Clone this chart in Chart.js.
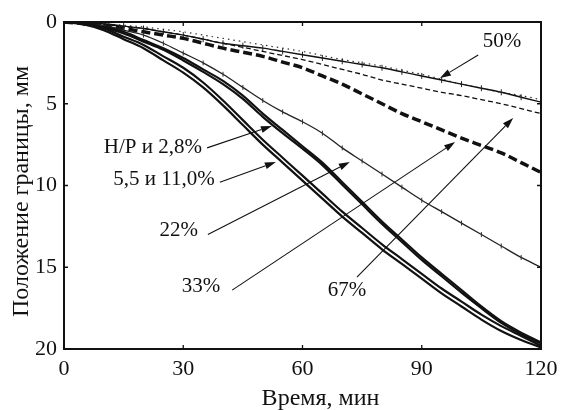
<!DOCTYPE html>
<html>
<head>
<meta charset="utf-8">
<script src="https://cdn.jsdelivr.net/npm/chart.js@4.4.1/dist/chart.umd.min.js"></script>
<style>
html,body{margin:0;padding:0;background:#fff;}
#wrap{width:561px;height:410px;}
</style>
</head>
<body>
<div id="wrap"><canvas id="c" width="561" height="410"></canvas></div>
<script>
// ---- data (time, min; boundary position, mm) ----
const times = [0,5,10,15,20,25,30,35,40,45,50,55,60,65,70,75,80,85,90,95,100,105,110,115,120];
const seriesNR   = [0,0.1,0.3,0.6,1.1,1.6,2.2,2.9,3.6,4.5,5.6,6.6,7.6,8.6,9.8,11.0,12.2,13.3,14.4,15.4,16.4,17.4,18.3,19.0,19.6];
const series2_8  = [0,0.1,0.35,0.7,1.2,1.7,2.35,3.05,3.8,4.7,5.8,6.8,7.75,8.75,9.95,11.15,12.35,13.45,14.55,15.55,16.55,17.5,18.4,19.1,19.65];
const series5_5  = [0,0.1,0.4,0.9,1.4,2.1,2.8,3.7,4.8,6.0,7.2,8.3,9.4,10.5,11.6,12.6,13.6,14.5,15.4,16.3,17.1,17.9,18.6,19.2,19.8];
const series11_0 = [0,0.15,0.5,1.05,1.6,2.35,3.1,4.0,5.1,6.3,7.5,8.6,9.7,10.8,11.9,12.9,13.9,14.8,15.7,16.6,17.4,18.2,18.9,19.45,19.9];
const series22   = [0,0.1,0.2,0.5,0.8,1.3,1.9,2.5,3.2,4.0,4.8,5.5,6.1,6.8,7.7,8.5,9.3,10.1,10.9,11.6,12.3,13.0,13.7,14.4,15.0];
const series33   = [0,0.1,0.2,0.4,0.6,0.8,1.0,1.3,1.6,1.85,2.1,2.45,2.8,3.3,3.8,4.4,5.0,5.6,6.1,6.6,7.1,7.55,8.0,8.6,9.2];
const series50   = [0,0.05,0.1,0.25,0.4,0.6,0.8,1.05,1.3,1.45,1.6,1.8,2.0,2.2,2.4,2.6,2.8,3.05,3.3,3.55,3.8,4.05,4.3,4.6,4.9];
const series50b  = [0,0.05,0.1,0.2,0.3,0.45,0.6,0.8,1.0,1.2,1.4,1.6,1.8,2.05,2.3,2.5,2.7,2.95,3.2,3.5,3.8,4.05,4.3,4.5,4.75];
const series67   = [0,0.08,0.15,0.28,0.4,0.6,0.8,1.05,1.3,1.55,1.8,2.05,2.3,2.6,2.9,3.2,3.55,3.8,4.05,4.3,4.5,4.75,5.0,5.3,5.6];
const xTicks = [0,30,60,90,120];
const yTicks = [0,5,10,15,20];
const xTitle = 'Время, мин';
const yTitle = 'Положение границы, мм';
// annotation labels
const labelTexts = ['50%','Н/Р и 2,8%','5,5 и 11,0%','22%','33%','67%'];
const labelT     = [110.2, 34.7, 37.9, 33.7, 39.3, 71.2];
const labelY     = [1.22, 7.65, 9.66, 12.75, 16.15, 16.4];
const labelAlign = ['center','right','right','right','right','center'];
// arrows: tail (t,y) -> head (t,y)
const arrowT0 = [104.2, 36.0, 39.2, 36.2, 42.3, 73.7];
const arrowY0 = [2.02, 7.7, 9.8, 13.0, 16.4, 15.6];
const arrowT1 = [94.6, 52.3, 53.3, 71.9, 98.4, 113.0];
const arrowY1 = [3.43, 6.36, 8.56, 8.56, 7.34, 5.87];

const pts = arr => arr.map((v,i)=>({x:times[i], y:v}));
const FONT = "'Liberation Serif','DejaVu Serif','Times New Roman',serif";

const annotationPlugin = {
  id:'annot',
  afterDraw(chart){
    const {ctx, chartArea:a, scales:{x, y}} = chart;
    ctx.save();
    // frame
    ctx.strokeStyle = '#111'; ctx.lineWidth = 2;
    ctx.strokeRect(a.left, a.top, a.right-a.left, a.bottom-a.top);
    // inward ticks
    ctx.lineWidth = 1.3;
    xTicks.forEach(v=>{ const px = x.getPixelForValue(v);
      ctx.beginPath(); ctx.moveTo(px,a.bottom); ctx.lineTo(px,a.bottom-4);
      ctx.moveTo(px,a.top); ctx.lineTo(px,a.top+4); ctx.stroke(); });
    yTicks.forEach(v=>{ const py = y.getPixelForValue(v);
      ctx.beginPath(); ctx.moveTo(a.left,py); ctx.lineTo(a.left+4,py);
      ctx.moveTo(a.right,py); ctx.lineTo(a.right-4,py); ctx.stroke(); });
    // arrows
    ctx.strokeStyle = '#111'; ctx.fillStyle = '#111'; ctx.lineWidth = 1.1;
    for(let i=0;i<arrowT0.length;i++){
      const x0 = x.getPixelForValue(arrowT0[i]), y0 = y.getPixelForValue(arrowY0[i]);
      const x1 = x.getPixelForValue(arrowT1[i]), y1 = y.getPixelForValue(arrowY1[i]);
      const ang = Math.atan2(y1-y0, x1-x0);
      const L = 11, W = 3.5;
      const bx = x1 - L*Math.cos(ang), by = y1 - L*Math.sin(ang);
      ctx.beginPath(); ctx.moveTo(x0,y0); ctx.lineTo(bx,by); ctx.stroke();
      ctx.beginPath();
      ctx.moveTo(x1,y1);
      ctx.lineTo(bx + W*Math.sin(ang), by - W*Math.cos(ang));
      ctx.lineTo(bx - W*Math.sin(ang), by + W*Math.cos(ang));
      ctx.closePath(); ctx.fill();
    }
    // labels
    ctx.font = '21px ' + FONT; ctx.textBaseline = 'middle';
    for(let i=0;i<labelTexts.length;i++){
      ctx.textAlign = labelAlign[i];
      ctx.fillText(labelTexts[i], x.getPixelForValue(labelT[i]), y.getPixelForValue(labelY[i]));
    }
    // axis titles
    ctx.font = '24px ' + FONT; ctx.textAlign = 'center'; ctx.textBaseline = 'alphabetic';
    ctx.fillText(xTitle, (a.left+a.right)/2 + 18, 405);
    ctx.save();
    ctx.translate(28, (a.top+a.bottom)/2 + 6);
    ctx.rotate(-Math.PI/2);
    ctx.fillText(yTitle, 0, 0);
    ctx.restore();
    ctx.restore();
  }
};

const common = {fill:false, cubicInterpolationMode:'monotone', pointRadius:0};
new Chart(document.getElementById('c'), {
  type:'line',
  data:{ datasets:[
    {...common, label:'5,5%',  data:pts(series5_5),  borderColor:'#111', borderWidth:2.2},
    {...common, label:'11,0%', data:pts(series11_0), borderColor:'#111', borderWidth:2.2},
    {...common, label:'Н/Р',   data:pts(seriesNR),   borderColor:'#111', borderWidth:2.2},
    {...common, label:'2,8%',  data:pts(series2_8),  borderColor:'#111', borderWidth:2.2},
    {...common, label:'22%',   data:pts(series22),   borderColor:'#222', borderWidth:1.3,
      pointRadius:2.5, pointStyle:'line', rotation:90, pointBorderColor:'#333', pointBorderWidth:1},
    {...common, label:'33%',   data:pts(series33),   borderColor:'#111', borderWidth:3.5, borderDash:[9,4]},
    {...common, label:'50%',   data:pts(series50),   borderColor:'#111', borderWidth:1.4,
      pointRadius:3, pointStyle:'line', rotation:90, pointBorderColor:'#222', pointBorderWidth:1},
    {...common, label:'50% (точки)', data:pts(series50b), borderColor:'#333', borderWidth:1.2, borderDash:[1.5,4]},
    {...common, label:'67%',   data:pts(series67),   borderColor:'#111', borderWidth:1.3, borderDash:[5,3]}
  ]},
  options:{
    responsive:false, animation:false,
    layout:{padding:{top:22, right:20, left:0, bottom:0}},
    plugins:{legend:{display:false}, tooltip:{enabled:false}},
    scales:{
      x:{type:'linear', min:0, max:120,
        afterBuildTicks(s){ s.ticks = xTicks.map(v=>({value:v})); },
        afterFit(s){ s.height = 61; s.paddingLeft = 0; s.paddingRight = 0; },
        grid:{display:false, drawTicks:false}, border:{display:false},
        ticks:{color:'#111', font:{family:FONT, size:22}, padding:7, maxRotation:0},
        title:{display:false}
      },
      y:{type:'linear', min:0, max:20, reverse:true,
        afterBuildTicks(s){ s.ticks = yTicks.map(v=>({value:v})); },
        afterFit(s){ s.width = 64; s.paddingTop = 0; s.paddingBottom = 0; },
        grid:{display:false, drawTicks:false}, border:{display:false},
        ticks:{color:'#111', font:{family:FONT, size:22}, padding:7},
        title:{display:false}
      }
    }
  },
  plugins:[annotationPlugin]
});
</script>
</body>
</html>
